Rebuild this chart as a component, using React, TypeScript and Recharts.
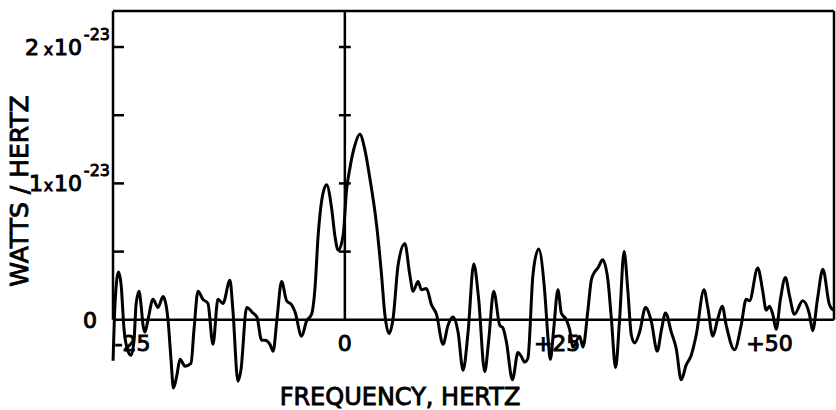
import React from "react";
import {
  LineChart,
  Line,
  XAxis,
  YAxis,
  ReferenceLine,
  ReferenceDot,
} from "recharts";

// frequency in Hz, power in units of 1e-23 W/Hz
const freq = [
  -27.29, -27.06, -26.65, -26.35, -26.0, -25.53, -25.18, -24.82, -24.59, -24.24,
  -24.0, -23.76, -23.53, -23.18, -22.59, -22.0, -21.41, -21.06, -20.82, -20.47,
  -20.18, -19.76, -19.41, -18.82, -18.12, -17.76, -17.29, -16.71, -16.12, -15.53,
  -14.94, -14.35, -13.53, -13.18, -12.59, -12.24, -11.56, -10.82, -10.35, -9.8,
  -9.41, -8.82, -8.44, -8.0, -7.45, -6.86, -6.27, -5.88, -5.09, -4.51,
  -3.92, -3.53, -3.14, -2.71, -2.15, -1.56, -1.18, -0.79, -0.2, 0.2,
  0.59, 1.18, 1.76, 2.35, 2.94, 3.73, 4.32, 4.71, 5.21, 5.68,
  6.27, 7.06, 7.65, 8.04, 8.62, 9.02, 9.61, 10.2, 10.79, 11.56,
  12.15, 12.74, 13.33, 13.92, 14.51, 15.18, 15.76, 16.47, 16.94, 17.53,
  18.24, 18.62, 19.02, 19.73, 20.39, 20.79, 21.18, 21.56, 22.15, 22.82,
  23.53, 23.92, 24.2, 24.59, 25.09, 25.49, 26.08, 26.47, 26.86, 27.65,
  28.04, 28.62, 29.02, 29.41, 29.8, 30.35, 30.98, 31.38, 31.88, 32.35,
  32.88, 33.33, 33.73, 34.12, 34.71, 35.41, 36.08, 36.79, 37.29, 37.76,
  38.44, 39.02, 39.61, 40.2, 40.79, 41.38, 42.29, 42.74, 43.33, 43.88,
  44.44, 44.91, 45.88, 46.67, 47.26, 47.65, 48.62, 49.21, 49.61, 50.0,
  50.39, 50.79, 51.29, 51.88, 52.35, 52.94, 53.92, 54.71, 55.09, 55.65,
  56.29, 57.06, 57.53,
];

const power = [
  -0.3, 0.12, 0.35, 0.26, -0.07, -0.23, -0.26, -0.15, 0.11, 0.21,
  0.11, -0.04, -0.09, 0, 0.15, 0.09, 0.17, 0.11, 0, -0.29,
  -0.5, -0.4, -0.29, -0.34, -0.32, -0.07, 0.21, 0.15, 0.12, -0.18,
  0.15, 0.12, 0.29, 0.07, -0.45, -0.37, 0.09, 0.05, 0.02, -0.15,
  -0.15, -0.18, -0.23, 0, 0.28, 0.14, 0.11, 0.06, -0.12, -0.01,
  0.04, 0.22, 0.62, 0.88, 0.99, 0.82, 0.62, 0.51, 0.62, 0.95,
  1.11, 1.28, 1.36, 1.25, 1.04, 0.7, 0.33, 0.04, -0.1, 0.01,
  0.4, 0.56, 0.33, 0.21, 0.28, 0.22, 0.23, 0.11, 0.04, -0.18,
  -0.04, 0.02, -0.09, -0.37, -0.09, 0.41, 0.15, -0.38, -0.15, 0.21,
  -0.04, -0.06, -0.16, -0.44, -0.24, -0.27, -0.31, -0.28, 0.33, 0.52,
  0.21, -0.13, -0.29, -0.07, 0.22, 0.05, 0, -0.07, -0.2, -0.12,
  -0.2, 0.07, 0.29, 0.35, 0.38, 0.44, 0.29, 0.01, -0.35, 0,
  0.5, 0.21, -0.11, -0.17, -0.09, 0.09, -0.01, -0.23, -0.07, 0.05,
  -0.09, -0.21, -0.44, -0.33, -0.26, -0.11, 0.22, 0.09, -0.12, 0,
  0.1, -0.04, -0.22, -0.04, 0.15, 0.14, 0.38, 0.21, 0.07, 0.1,
  0.04, -0.07, 0.15, 0.31, 0.18, 0.04, 0.14, 0.04, -0.08, 0.15,
  0.37, 0.11, 0.07,
];

const yTicks = [0, 0.5, 1, 1.5, 2];
const yTickLead = ["0", "", "1", "", "2"];
const yTickExp = ["", "", "-23", "", "-23"];

const xTicks = [-25, 0, 25, 50];
const xTickLabels = ["-25", "0", "+25", "+50"];

const X_MIN = -27.3;
const X_MAX = 57.6;
const Y_MIN = -0.5;
const Y_MAX = 2.264;

const FONT = "'DejaVu Sans', sans-serif";
const INK = "#000";

const data = freq.map((f, i) => ({ f, p: power[i] }));

function LeftTick(props: any) {
  const { x, y, payload } = props;
  const i = yTicks.indexOf(payload.value);
  const lead = yTickLead[i];
  const exp = yTickExp[i];
  return (
    <g>
      {payload.value !== 0 && (
        <line x1={x} x2={x + 11} y1={y} y2={y} stroke={INK} strokeWidth={2.5} />
      )}
      {lead && !exp && (
        <text x={x - 16} y={y + 8} textAnchor="end" fontSize={22} fontFamily={FONT}
          fill={INK} stroke={INK} strokeWidth={1}>
          {lead}
        </text>
      )}
      {lead && exp && (
        <g>
          <text x={x - 31} y={y + 8} textAnchor="end" fontSize={22} fontFamily={FONT}
            fill={INK} stroke={INK} strokeWidth={1}>
            {lead}
            <tspan fontSize={15} dx={lead === "2" ? 5 : 1}>x</tspan>
            <tspan dx={1}>10</tspan>
          </text>
          <text x={x - 3} y={y - 7} textAnchor="end" fontSize={16} fontFamily={FONT}
            fill={INK} stroke={INK} strokeWidth={0.8}>
            {exp}
          </text>
        </g>
      )}
    </g>
  );
}

function RightTick(props: any) {
  const { x, y, payload } = props;
  if (payload.value === 0) return <g />;
  return <line x1={x - 8} x2={x} y1={y} y2={y} stroke={INK} strokeWidth={2.5} />;
}

export default function App() {
  return (
    <div style={{ position: "absolute", left: 0, top: 0, background: "#fff" }}>
      <LineChart
        width={836}
        height={410}
        data={data}
        margin={{ top: 11, right: 0, bottom: 22, left: 0 }}
      >
        <XAxis type="number" dataKey="f" domain={[X_MIN, X_MAX]} hide />
        <YAxis
          yAxisId="left"
          type="number"
          domain={[Y_MIN, Y_MAX]}
          ticks={yTicks}
          interval={0}
          width={113}
          axisLine={false}
          tickLine={false}
          tickSize={0}
          tickMargin={0}
          tick={<LeftTick />}
        />
        <YAxis
          yAxisId="right"
          orientation="right"
          type="number"
          domain={[Y_MIN, Y_MAX]}
          ticks={yTicks}
          interval={0}
          width={2}
          axisLine={false}
          tickLine={false}
          tickSize={0}
          tickMargin={0}
          tick={<RightTick />}
        />

        {/* frame and zero lines */}
        <ReferenceLine yAxisId="left" y={Y_MAX} stroke={INK} strokeWidth={2.5} />
        <ReferenceLine yAxisId="left" y={0} stroke={INK} strokeWidth={2.5} />
        <ReferenceLine
          yAxisId="left"
          segment={[{ x: X_MIN, y: 0 }, { x: X_MIN, y: Y_MAX }]}
          stroke={INK}
          strokeWidth={2.5}
        />
        <ReferenceLine
          yAxisId="left"
          segment={[{ x: X_MAX, y: 0 }, { x: X_MAX, y: Y_MAX }]}
          stroke={INK}
          strokeWidth={2.5}
        />
        <ReferenceLine
          yAxisId="left"
          segment={[{ x: 0, y: 0 }, { x: 0, y: Y_MAX }]}
          stroke={INK}
          strokeWidth={2.5}
        />
        {yTicks
          .filter((t) => t > 0)
          .map((t) => (
            <ReferenceLine
              key={"m" + t}
              yAxisId="left"
              segment={[{ x: -0.7, y: t }, { x: 0.7, y: t }]}
              stroke={INK}
              strokeWidth={2.5}
            />
          ))}

        {xTicks.map((t, i) => (
          <ReferenceDot
            key={"x" + t}
            yAxisId="left"
            x={t}
            y={0}
            r={0}
            fill="none"
            stroke="none"
            label={{
              value: xTickLabels[i],
              position: "bottom",
              offset: 16,
              fontSize: 22,
              fontFamily: FONT,
              fill: INK,
              stroke: INK,
              strokeWidth: 1,
            }}
          />
        ))}

        <Line
          yAxisId="left"
          type="monotone"
          dataKey="p"
          stroke={INK}
          strokeWidth={3}
          dot={false}
          activeDot={false}
          isAnimationActive={false}
        />

        <text
          x={400}
          y={405}
          textAnchor="middle"
          fontSize={24}
          fontFamily={FONT}
          fill={INK}
          stroke={INK}
          strokeWidth={0.9}
        >
          FREQUENCY, HERTZ
        </text>
        <text
          x={19}
          y={191}
          transform="rotate(-90 19 191)"
          textAnchor="middle"
          dominantBaseline="central"
          fontSize={25}
          fontFamily={FONT}
          fill={INK}
          stroke={INK}
          strokeWidth={0.9}
        >
          WATTS / HERTZ
        </text>
      </LineChart>
    </div>
  );
}
